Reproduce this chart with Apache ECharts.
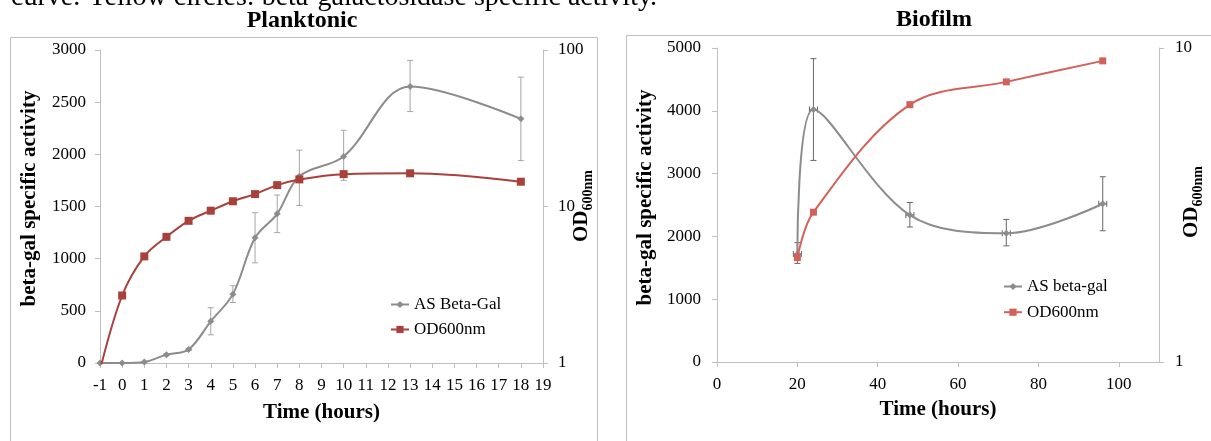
<!DOCTYPE html>
<html><head><meta charset="utf-8">
<script src="https://cdn.jsdelivr.net/npm/echarts@6/dist/echarts.min.js"></script>
<style>html,body{margin:0;padding:0;background:#fff;overflow:hidden}#c{width:1211px;height:441px;}</style>
</head><body><div id="c"></div>
<script>
// ---------- Planktonic data ----------
const plankTime = [-1, 0, 1, 2, 3, 4, 5, 6, 7, 8, 10, 13, 18];
const plankBetaGal = [0, 0, 10, 80, 130, 400, 660, 1200, 1430, 1790, 1980, 2650, 2340];
const plankBetaGalLow = [0, 0, 5, 70, 120, 270, 580, 960, 1250, 1510, 1750, 2410, 1940];
const plankBetaGalHigh = [0, 0, 15, 90, 140, 530, 740, 1440, 1610, 2040, 2230, 2900, 2740];
const plankOD = [0.9, 2.7, 4.8, 6.4, 8.1, 9.4, 10.8, 12.0, 13.7, 14.9, 16.1, 16.3, 14.4];
const plankXTicks = [-1, 0, 1, 2, 3, 4, 5, 6, 7, 8, 9, 10, 11, 12, 13, 14, 15, 16, 17, 18, 19];
const plankYTicks = [0, 500, 1000, 1500, 2000, 2500, 3000];

// ---------- Biofilm data ----------
const bioTime = [20, 24, 48, 72, 96];
const bioBetaGal = [1720, 4020, 2340, 2050, 2520];
const bioBetaGalLow = [1570, 3210, 2150, 1850, 2090];
const bioBetaGalHigh = [1900, 4830, 2540, 2270, 2950];
const bioTimeErr = [1, 1, 1, 1, 1];
const bioOD = [2.15, 3.0, 6.6, 7.8, 9.1];
const bioXTicks = [0, 20, 40, 60, 80, 100];
const bioYTicks = [0, 1000, 2000, 3000, 4000, 5000];

const F = "'Liberation Serif', 'Times New Roman', serif";
const AX = '#bfbfbf';
const SM = 0.35;
const plain = v => String(v);

function errRender(color, capHalf) {
  return function (params, api) {
    const x = api.value(0), lo = api.value(1), hi = api.value(2), xe = api.value(3), v = api.value(4);
    const top = api.coord([x, hi]), bot = api.coord([x, lo]);
    const style = { stroke: color, lineWidth: 1 };
    const ch = [];
    if (hi > lo) {
      ch.push({ type: 'line', shape: { x1: top[0], y1: top[1], x2: bot[0], y2: bot[1] }, style });
      ch.push({ type: 'line', shape: { x1: top[0] - capHalf, y1: top[1], x2: top[0] + capHalf, y2: top[1] }, style });
      ch.push({ type: 'line', shape: { x1: bot[0] - capHalf, y1: bot[1], x2: bot[0] + capHalf, y2: bot[1] }, style });
    }
    if (xe > 0) {
      const l = api.coord([x - xe, v]), r = api.coord([x + xe, v]);
      ch.push({ type: 'line', shape: { x1: l[0], y1: l[1], x2: r[0], y2: r[1] }, style });
      ch.push({ type: 'line', shape: { x1: l[0], y1: l[1] - capHalf, x2: l[0], y2: l[1] + capHalf }, style });
      ch.push({ type: 'line', shape: { x1: r[0], y1: r[1] - capHalf, x2: r[0], y2: r[1] + capHalf }, style });
    }
    return { type: 'group', children: ch };
  };
}

function lbl(margin, custom) {
  const o = { color: '#000', fontFamily: F, fontSize: 17, margin: margin, formatter: plain };
  if (custom) o.customValues = custom;
  return o;
}
function tck(custom) {
  const o = { show: true, length: 5, lineStyle: { color: AX } };
  if (custom) o.customValues = custom;
  return o;
}
function valAxis(extra) {
  return Object.assign({
    axisLine: { show: true, onZero: false, lineStyle: { color: AX, width: 1 } },
    axisTick: tck(),
    splitLine: { show: false },
    minorTick: { show: false },
    minorSplitLine: { show: false }
  }, extra);
}

const chart = echarts.init(document.getElementById('c'), null, { renderer: 'canvas' });
chart.setOption({
  animation: false,
  backgroundColor: '#fff',
  grid: [
    { left: 100, top: 50, width: 443, height: 313 },
    { left: 717, top: 48, width: 442, height: 314 }
  ],
  xAxis: [
    valAxis({ gridIndex: 0, type: 'value', min: -1, max: 19, interval: 1,
      axisLabel: lbl(14, plankXTicks), axisTick: tck(plankXTicks) }),
    valAxis({ gridIndex: 1, type: 'value', min: 0, max: 110, interval: 20,
      axisLabel: lbl(14, bioXTicks), axisTick: tck(bioXTicks) })
  ],
  yAxis: [
    valAxis({ gridIndex: 0, type: 'value', position: 'left', min: 0, max: 3000, interval: 500,
      axisLabel: lbl(14, plankYTicks), axisTick: tck(plankYTicks) }),
    valAxis({ gridIndex: 0, type: 'log', logBase: 10, position: 'right', min: 1, max: 100,
      axisLabel: lbl(15) }),
    valAxis({ gridIndex: 1, type: 'value', position: 'left', min: 0, max: 5000, interval: 1000,
      axisLabel: lbl(16, bioYTicks), axisTick: tck(bioYTicks) }),
    valAxis({ gridIndex: 1, type: 'log', logBase: 10, position: 'right', min: 1, max: 10,
      axisLabel: lbl(16) })
  ],
  legend: [
    { data: ['AS Beta-Gal', 'OD600nm'], orient: 'vertical', left: 385, top: 291,
      itemWidth: 18, itemHeight: 9, itemGap: 8, selectedMode: false,
      textStyle: { fontFamily: F, fontSize: 17, color: '#000' } },
    { data: ['AS beta-gal', 'OD600nm '], orient: 'vertical', left: 998, top: 273,
      itemWidth: 18, itemHeight: 9, itemGap: 8.7, selectedMode: false,
      textStyle: { fontFamily: F, fontSize: 17, color: '#000' } }
  ],
  series: [
    { type: 'custom', name: 'errP', xAxisIndex: 0, yAxisIndex: 0, silent: true, z: 1,
      renderItem: errRender('#a6a6a6', 3),
      encode: { x: 0, y: [1, 2] },
      data: plankTime.map((t, i) => [t, plankBetaGalLow[i], plankBetaGalHigh[i], 0, plankBetaGal[i]]) },
    { type: 'line', name: 'AS Beta-Gal', xAxisIndex: 0, yAxisIndex: 0, z: 3,
      smooth: SM, symbol: 'diamond', symbolSize: 7,
      itemStyle: { color: '#8c8c8c' }, lineStyle: { color: '#8c8c8c', width: 2 },
      data: plankTime.map((t, i) => [t, plankBetaGal[i]]) },
    { type: 'line', name: 'OD600nm', xAxisIndex: 0, yAxisIndex: 1, z: 4, clip: true,
      smooth: SM, symbol: 'rect', symbolSize: 8,
      itemStyle: { color: '#a8403c' }, lineStyle: { color: '#a8403c', width: 2 },
      data: plankTime.map((t, i) => [t, plankOD[i]]) },
    { type: 'custom', name: 'errB', xAxisIndex: 1, yAxisIndex: 2, silent: true, z: 1,
      renderItem: errRender('#666666', 3),
      encode: { x: 0, y: [1, 2] },
      data: bioTime.map((t, i) => [t, bioBetaGalLow[i], bioBetaGalHigh[i], bioTimeErr[i], bioBetaGal[i]]) },
    { type: 'line', name: 'AS beta-gal', xAxisIndex: 1, yAxisIndex: 2, z: 3,
      smooth: SM, symbol: 'diamond', symbolSize: 7,
      itemStyle: { color: '#8c8c8c' }, lineStyle: { color: '#8c8c8c', width: 2 },
      data: bioTime.map((t, i) => [t, bioBetaGal[i]]) },
    { type: 'line', name: 'OD600nm ', xAxisIndex: 1, yAxisIndex: 3, z: 4,
      smooth: SM, symbol: 'rect', symbolSize: 7,
      itemStyle: { color: '#d4605a' }, lineStyle: { color: '#d4605a', width: 2 },
      data: bioTime.map((t, i) => [t, bioOD[i]]) }
  ],
  graphic: [
    { type: 'rect', shape: { x: 10.5, y: 37.5, width: 587, height: 500 }, style: { fill: null, stroke: AX, lineWidth: 1 }, z: -1 },
    { type: 'rect', shape: { x: 626.5, y: 35.5, width: 700, height: 500 }, style: { fill: null, stroke: AX, lineWidth: 1 }, z: -1 },
    { type: 'text', x: 11, y: -2.5, style: { text: 'curve. Yellow circles: beta-galactosidase specific activity.', fontFamily: F, fontSize: 28, fill: '#000', align: 'left', verticalAlign: 'middle' } },
    { type: 'text', x: 302, y: 21, style: { text: 'Planktonic', fontFamily: F, fontSize: 24, fontWeight: 'bold', fill: '#000', align: 'center', verticalAlign: 'middle' } },
    { type: 'text', x: 934, y: 19.5, style: { text: 'Biofilm', fontFamily: F, fontSize: 24, fontWeight: 'bold', fill: '#000', align: 'center', verticalAlign: 'middle' } },
    { type: 'text', x: 30, y: 198.5, rotation: Math.PI / 2, style: { text: 'beta-gal specific activity', fontFamily: F, fontSize: 21, fontWeight: 'bold', fill: '#000', align: 'center', verticalAlign: 'middle' } },
    { type: 'text', x: 645.5, y: 197.5, rotation: Math.PI / 2, style: { text: 'beta-gal specific activity', fontFamily: F, fontSize: 21, fontWeight: 'bold', fill: '#000', align: 'center', verticalAlign: 'middle' } },
    { type: 'text', x: 321.5, y: 413, style: { text: 'Time (hours)', fontFamily: F, fontSize: 21, fontWeight: 'bold', fill: '#000', align: 'center', verticalAlign: 'middle' } },
    { type: 'text', x: 938, y: 410, style: { text: 'Time (hours)', fontFamily: F, fontSize: 21, fontWeight: 'bold', fill: '#000', align: 'center', verticalAlign: 'middle' } },
    { type: 'text', x: 582, y: 206, rotation: Math.PI / 2, style: { text: '{a|OD}{b|600nm}', align: 'center', verticalAlign: 'middle',
      rich: { a: { fontFamily: F, fontSize: 21, fontWeight: 'bold', fill: '#000' }, b: { fontFamily: F, fontSize: 14, fontWeight: 'bold', fill: '#000', padding: [12, 0, 0, 0] } } } },
    { type: 'text', x: 1192, y: 202, rotation: Math.PI / 2, style: { text: '{a|OD}{b|600nm}', align: 'center', verticalAlign: 'middle',
      rich: { a: { fontFamily: F, fontSize: 21, fontWeight: 'bold', fill: '#000' }, b: { fontFamily: F, fontSize: 14, fontWeight: 'bold', fill: '#000', padding: [12, 0, 0, 0] } } } }
  ]
});
</script>
</body></html>
